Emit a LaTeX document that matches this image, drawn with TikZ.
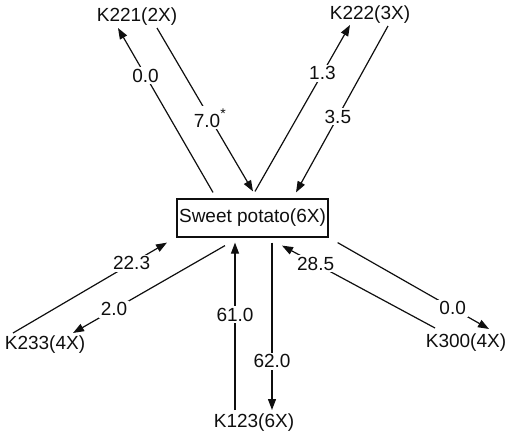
\documentclass[tikz,border=0pt]{standalone}
\usepackage{fontspec}
\setmainfont{Liberation Sans}
\usepackage{tikz}
\usetikzlibrary{calc,arrows.meta,positioning}
\definecolor{inkBlack}{RGB}{15,15,15}

\begin{document}
\begin{tikzpicture}[x=0.5pt,y=-0.5pt,
    taxon/.style={inner sep=0pt, text=inkBlack, font=\fontsize{9.5}{11}\selectfont},
    flow/.style={draw=inkBlack, line width=0.6pt, -{Triangle[length=5.5pt,width=4pt]}},
    val/.style={fill=white, inner sep=1pt, text=inkBlack, font=\fontsize{9.5}{11}\selectfont}]
\useasboundingbox (0,0) rectangle (505,434);

\node[draw=inkBlack, line width=0.6pt, minimum width=75.5pt, minimum height=19pt, inner sep=0pt,
      text=inkBlack, font=\fontsize{9.5}{11}\selectfont] (potato) at (252.5,218) {Sweet potato(6X)};
\node[taxon] (k221) at (137,17) {K221(2X)};
\node[taxon] (k222) at (370,15) {K222(3X)};
\node[taxon] (k233) at (45,345) {K233(4X)};
\node[taxon] (k123) at (254,423) {K123(6X)};
\node[taxon] (k300) at (466,343) {K300(4X)};

% upper pair
\draw[flow] ($(potato.north)+(-39.5,-6)$) -- node[val, pos=0.71] {0.0} ($(k221.center)+(-19,11)$);
\draw[flow] ($(k221.center)+(20,11)$) -- node[val, pos=0.55] {7.0\raisebox{0.9ex}{\scriptsize *}} ($(potato.north)+(0.5,-7)$);
\draw[flow] ($(potato.north)+(2.5,-7)$) -- node[val, pos=0.71] {1.3} ($(k222.center)+(-20,10)$);
\draw[flow] ($(k222.center)+(18,11)$) -- node[val, pos=0.545] {3.5} ($(potato.north)+(43.5,-6)$);

% lower pairs
\draw[flow] ($(k233.center)+(-32,-12)$) -- node[val, pos=0.77] {22.3} ($(potato.south)+(-85.5,5)$);
\draw[flow] ($(potato.south)+(-27.5,8)$) -- node[val, pos=0.73] {2.0} ($(k233.center)+(28,-12)$);
\draw[flow] ($(k123.center)+(-19,-13)$) -- node[val, pos=0.57] {61.0} ($(potato.south)+(-17.5,5)$);
\draw[flow] ($(potato.south)+(19.5,5)$) -- node[val, pos=0.71] {62.0} ($(k123.center)+(18,-13)$);
\draw[flow] ($(k300.center)+(-31,-15)$) -- node[val, pos=0.78] {28.5} ($(potato.south)+(29.5,8)$);
\draw[flow] ($(potato.south east)+(9,5)$) -- node[val, pos=0.76] {0.0} ($(k300.center)+(23,-14)$);
\end{tikzpicture}
\end{document}
